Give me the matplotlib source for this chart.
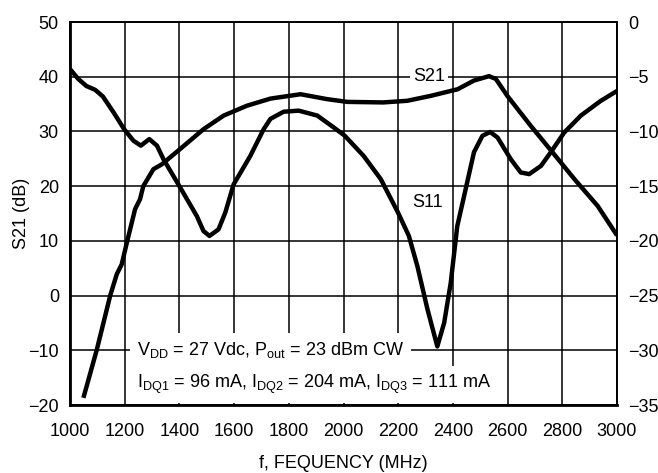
import matplotlib as mpl
import matplotlib.pyplot as plt

mpl.rcParams['font.family'] = ['Liberation Sans Narrow', 'Liberation Sans', 'DejaVu Sans']
mpl.rcParams['mathtext.fontset'] = 'custom'
mpl.rcParams['mathtext.rm'] = 'Liberation Sans Narrow'

# S21 (dB), left axis
s21_freq = [1049, 1098, 1147, 1171, 1189, 1208, 1238, 1256, 1268, 1305, 1336, 1403,
            1488, 1562, 1647, 1733, 1843, 1940, 2014, 2145, 2233, 2319, 2392, 2417,
            2477, 2532, 2557, 2599, 2685, 2764, 2844, 2929, 3000]
s21_db = [-18.7, -9.9, 0.0, 3.9, 5.7, 9.7, 15.8, 17.6, 20.0, 23.1, 24.0, 26.8,
          30.4, 32.9, 34.7, 36.0, 36.8, 35.9, 35.4, 35.3, 35.6, 36.5, 37.4, 37.7,
          39.3, 40.1, 39.6, 36.5, 31.0, 26.2, 21.3, 16.4, 11.0]

# S11 (dB), right axis
s11_freq = [1000, 1030, 1060, 1092, 1120, 1159, 1198, 1232, 1259, 1290, 1318, 1342, 1400,
            1464, 1488, 1510, 1543, 1568, 1598, 1659, 1708, 1733, 1781, 1836, 1904,
            1965, 2005, 2074, 2136, 2199, 2239, 2270, 2307, 2343, 2368, 2392, 2416,
            2441, 2477, 2508, 2536, 2563, 2612, 2648, 2679, 2722, 2758, 2807, 2868,
            2941, 3000]
s11_db = [-4.3, -5.2, -5.85, -6.2, -6.8, -8.25, -9.8, -10.85, -11.3, -10.7, -11.3, -12.55, -15.0,
          -17.75, -19.1, -19.55, -18.95, -17.4, -14.85, -12.25, -9.8, -8.85, -8.2, -8.1, -8.55,
          -9.65, -10.4, -12.25, -14.35, -17.4, -19.55, -22.3, -26.25, -29.65, -27.5, -23.85, -18.65,
          -15.9, -11.9, -10.4, -10.05, -10.55, -12.55, -13.75, -13.9, -13.15, -11.9, -10.1, -8.55,
          -7.2, -6.3]

fig = plt.figure(figsize=(6.58, 4.73), dpi=100)
ax = fig.add_axes([70/658, 1-405/473, 547/658, 383/473])
ax2 = ax.twinx()

ax.set_xlim(1000, 3000)
ax.set_ylim(-20, 50)
ax2.set_ylim(-35, 0)
ax.set_xticks(range(1000, 3001, 200))
ax.set_yticks(range(-20, 51, 10))
ax2.set_yticks(range(-35, 1, 5))
ax.set_yticklabels(['\u221220', '\u221210', '0', '10', '20', '30', '40', '50'])
ax2.set_yticklabels(['\u221235', '\u221230', '\u221225', '\u221220', '\u221215', '\u221210', '\u22125', '0'])

ax.grid(True, color='black', lw=1.1, zorder=0)
ax.set_axisbelow(True)
for a in (ax, ax2):
    a.tick_params(length=0, labelsize=13, pad=8)
    for s in a.spines.values():
        s.set_linewidth(1.2)
ax.tick_params(axis='x', pad=13)
ax.spines['bottom'].set_linewidth(2)
ax.spines['left'].set_linewidth(2)

ax.plot(s21_freq, s21_db, color='black', lw=3.2, solid_joinstyle='round', solid_capstyle='butt', zorder=3)
ax2.plot(s11_freq, s11_db, color='black', lw=3.2, solid_joinstyle='round', solid_capstyle='butt', zorder=3)

ax.set_xlabel('f, FEQUENCY (MHz)', fontsize=13, labelpad=11)
ax.set_ylabel('S21 (dB)', fontsize=13, labelpad=-1)

box = dict(facecolor='white', edgecolor='none', pad=2)
ax.text(2312, 40, 'S21', fontsize=13, ha='center', va='center', bbox=box, zorder=2)
ax.text(2307, 17.1, 'S11', fontsize=13, ha='center', va='center', bbox=box, zorder=2)
tbox = dict(facecolor='white', edgecolor='none', pad=5)
ax.text(1245, -10, r'V$_{\mathregular{DD}}$ = 27 Vdc, P$_{\mathregular{out}}$ = 23 dBm CW',
        fontsize=13, ha='left', va='center', bbox=tbox, zorder=2)
ax.text(1245, -16.3, r'I$_{\mathregular{DQ1}}$ = 96 mA, I$_{\mathregular{DQ2}}$ = 204 mA, I$_{\mathregular{DQ3}}$ = 111 mA',
        fontsize=13, ha='left', va='center', bbox=tbox, zorder=2)

fig.savefig('out.png', dpi=100)
